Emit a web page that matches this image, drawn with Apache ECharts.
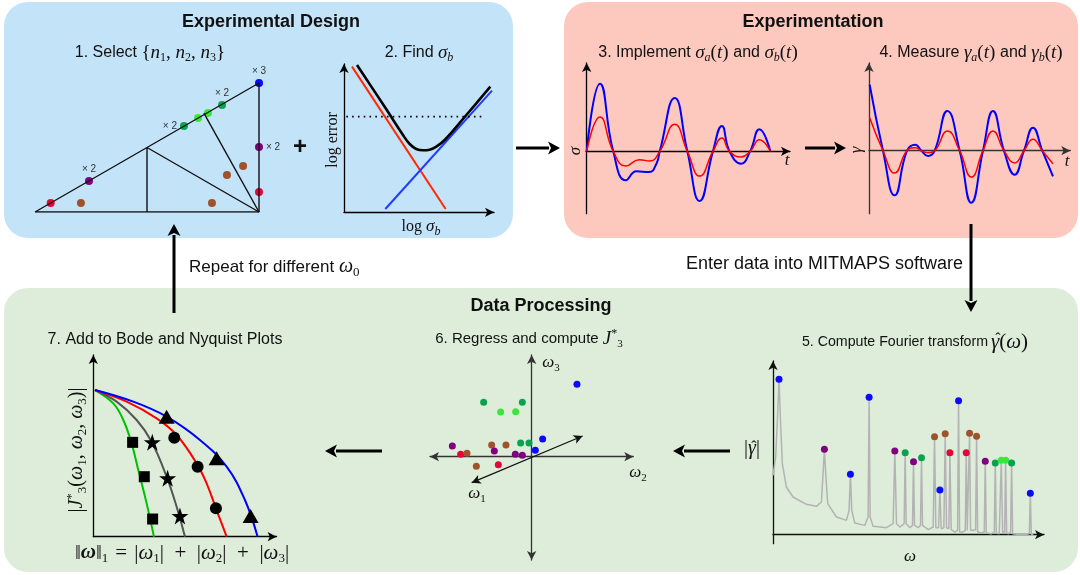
<!DOCTYPE html>
<html>
<head>
<meta charset="utf-8">
<script src="https://cdn.jsdelivr.net/npm/echarts@6.0.0/dist/echarts.min.js"></script>
<style>
html,body{margin:0;padding:0;background:#fff;}
#chart{width:1080px;height:575px;}
</style>
</head>
<body>
<div id="chart"></div>
<script>
// ================= DATA (arbitrary units) =================
// Panel 1 – candidate design points in the triangle (normalised coordinates)
const triOutline = [[0,0],[1,0],[1,1],[0,0]];
const triSplitA  = [[0.5,0],[0.5,0.5],[1,0]];
const triSplitB  = [[0.754,0.767],[1,0]];
const designPts  = [[0.07,0.07],[0.205,0.07],[0.241,0.24],[0.665,0.667],[0.728,0.729],[0.772,0.767],
                    [0.835,0.829],[1,1],[1,0.504],[1,0.155],[0.929,0.357],[0.857,0.287],[0.79,0.07]];
const designGroup = ['red','brown','purple','dkgreen','ltgreen','ltgreen','dkgreen','blue','purple','red','brown','brown','brown'];
const designMult  = ['','','× 2','× 2','','','× 2','× 3','× 2','','','',''];

// Panel 2 – error vs log sigma_b
const biasErr   = [[24,437],[305,10]];
const varErr    = [[124,10],[444,365]];
const totalErr  = [[39,442],[127,309],[177,232],[197,205],[217,190],[237,186],[257,188],[277,197],[302,217],[367,292],[439,377]];
const tolerance = [[7,287],[422,287]];

// Panel 3 – input signals sigma_a(t) (blue) and sigma_b(t) (red)
const sigmaA = [[0,0],[40,203],[80,0],[118,-87],[150,-60],[188,-62],[210,-37],[220,0],[265,160],[303,0],[340,-149],
                [380,0],[407,76],[430,0],[465,-37],[492,0],[520,66],[553,0]];
const sigmaB = [[0,0],[40,103],[80,0],[118,-44],[158,-25],[190,-29],[220,0],[265,81],[303,0],[340,-74],
                [380,0],[407,40],[430,0],[465,-17],[492,0],[520,35],[553,0]];

// Panel 4 – measured responses gamma_a(t) (blue) and gamma_b(t) (red)
const gammaA = [[2,198],[42,0],[77,-134],[114,0],[139,18],[157,0],[177,-16],[197,0],[235,119],[272,0],[307,-156],
                [342,0],[372,119],[405,0],[437,-72],[465,0],[492,69],[520,0],[552,-77]];
const gammaB = [[2,99],[42,0],[77,-67],[114,0],[139,9],[157,0],[177,-6],[197,0],[235,59],[272,0],[307,-79],
                [342,0],[372,59],[405,0],[437,-37],[465,0],[492,34],[520,0],[552,-39]];

// Panel 5 – Fourier spectrum |gamma_hat(omega)| and identified peaks
const spectrum = [[0,178],[8,233],[14,363],[18,466],[22,353],[28,213],[40,143],[60,113],[100,91],[130,85],[145,98],
  [150,183],[154,256],[158,183],[164,93],[190,53],[220,43],[228,73],[232,181],[236,73],[245,35],[275,28],[285,53],
  [288,412],[291,53],[300,25],[340,21],[360,33],[365,251],[370,33],[380,23],[393,33],[396,246],[399,33],[410,21],
  [418,28],[421,219],[424,28],[435,21],[442,28],[445,231],[448,28],[465,15],[480,23],[484,294],[488,21],[496,21],
  [500,134],[504,18],[512,21],[516,303],[520,21],[527,18],[530,246],[534,15],[545,8],[553,13],[556,402],[559,8],
  [570,8],[576,13],[579,246],[582,13],[586,15],[589,304],[592,13],[600,13],[607,15],[610,295],[613,8],[625,5],
  [633,8],[636,220],[639,5],[655,3],[663,8],[666,215],[669,5],[678,3],[681,8],[684,223],[688,7],[694,7],[697,223],
  [700,5],[706,3],[712,8],[715,215],[718,3],[730,1],[760,1],[768,3],[771,124],[774,1],[780,1]];
const peakW = [18,154,232,288,365,396,421,445,484,500,516,530,556,579,589,610,636,666,684,697,715,771];
const peakA = [466,256,181,412,251,246,219,231,294,134,303,246,402,246,304,295,220,215,223,223,215,124];
const peakGroup = ['blue','purple','blue','blue','purple','dkgreen','purple','dkgreen','brown','blue','brown','red',
                   'blue','red','brown','brown','purple','dkgreen','ltgreen','ltgreen','dkgreen','blue'];

// Panel 6 – regression points in (omega_2, omega_3) projection
const regressPts = [[136,217],[-144,163],[-28,163],[-93,134],[-48,135],[-238,32],[-120,35],[-77,35],[-33,41],[-8,41],
                    [33,53],[11,19],[-112,17],[-213,7],[-194,10],[-49,7],[-28,4],[-166,-29],[-100,-24]];
const regressGroup = ['blue','dkgreen','dkgreen','ltgreen','ltgreen','purple','brown','brown','dkgreen','dkgreen',
                      'blue','blue','purple','red','brown','purple','purple','brown','red'];
const omega1Axis = [[-180,-78],[153,62]];

// Panel 7 – |J3*| versus ||omega||_1
const bodeGreen = [[5,440],[60,400],[90,350],[115,280],[135,200],[160,100],[182,0]];
const bodeGray  = [[5,440],[70,405],[130,350],[175,285],[220,180],[250,90],[275,0]];
const bodeRed   = [[5,440],[100,405],[190,355],[250,305],[310,220],[340,160],[368,85],[385,40],[400,0]];
const bodeBlue  = [[5,440],[120,405],[220,360],[320,290],[400,210],[455,110],[493,0]];
const markSquares   = [[118,283],[153,180],[178,53]];
const markStars     = [[177,283],[223,175],[260,62]];
const markCircles   = [[243,297],[313,210],[368,85]];
const markTriangles = [[220,360],[370,235],[472,62]];

// ================= STYLE / LAYOUT =================
const SANS = '"Liberation Sans", Arial, Helvetica, sans-serif';
const SERIF = '"Liberation Serif", "Times New Roman", serif';
const INK = '#111';
const GROUP_COLOR = {red:'#e3063b', brown:'#a0522d', purple:'#800080', dkgreen:'#0ba24f', ltgreen:'#3be63b', blue:'#0a0aff'};
const multPos = [null,null,'top','left',null,null,'top','top','right',null,null,null,null];

const RICH = {
  s:    {fontFamily:SANS, fontSize:15, lineHeight:22, fill:INK},
  s142: {fontFamily:SANS, fontSize:14.2, lineHeight:22, fill:INK},
  st:   {fontFamily:SANS, fontSize:16, lineHeight:22, fill:INK},
  s16:  {fontFamily:SANS, fontSize:16, lineHeight:22, fill:INK},
  s17:  {fontFamily:SANS, fontSize:17, lineHeight:22, fill:INK},
  s18:  {fontFamily:SANS, fontSize:18, lineHeight:22, fill:INK},
  b:    {fontFamily:SANS, fontSize:18, fontWeight:'bold', lineHeight:22, fill:INK},
  m:    {fontFamily:SERIF, fontSize:17, fontStyle:'italic', lineHeight:22, fill:INK},
  mt:   {fontFamily:SERIF, fontSize:19, fontStyle:'italic', lineHeight:22, fill:INK},
  m20:  {fontFamily:SERIF, fontSize:20, fontStyle:'italic', lineHeight:24, fill:INK},
  m21:  {fontFamily:SERIF, fontSize:21, fontStyle:'italic', lineHeight:24, fill:INK},
  mb21: {fontFamily:SERIF, fontSize:21, fontStyle:'italic', fontWeight:'bold', lineHeight:24, fill:INK},
  sub:  {fontFamily:SERIF, fontSize:11, lineHeight:13, verticalAlign:'bottom', fill:INK},
  subt: {fontFamily:SERIF, fontSize:12, lineHeight:13, verticalAlign:'bottom', fill:INK},
  subi: {fontFamily:SERIF, fontSize:12, fontStyle:'italic', lineHeight:13, verticalAlign:'bottom', fill:INK},
  sub13:{fontFamily:SERIF, fontSize:13, lineHeight:14, verticalAlign:'bottom', fill:INK},
  sup:  {fontFamily:SERIF, fontSize:12, lineHeight:13, verticalAlign:'top', fill:INK},
  sup13:{fontFamily:SERIF, fontSize:13, lineHeight:14, verticalAlign:'top', fill:INK}
};

function T(x, y, text, o) {
  o = o || {};
  return {type:'text', x:x, y:y, rotation:o.rot || 0, silent:true, z:50,
    style:{text:text, rich:RICH, fill:INK, fontFamily:o.ff || SERIF, fontSize:o.fs || 17,
      fontWeight:o.fw || 'normal', lineHeight:o.lh || 22, align:o.align || 'center', verticalAlign:'middle'}};
}
function arrow(x1, y1, x2, y2) {
  const dx = x2 - x1, dy = y2 - y1, L = Math.hypot(dx, dy), ux = dx / L, uy = dy / L;
  const hl = 12, hw = 6.5, bx = x2 - ux * hl, by = y2 - uy * hl;
  return [
    {type:'line', silent:true, z:40, shape:{x1:x1, y1:y1, x2:bx + ux, y2:by + uy}, style:{stroke:'#000', lineWidth:3}},
    {type:'polygon', silent:true, z:40, shape:{points:[[x2,y2],[bx - uy*hw, by + ux*hw],[bx + ux*3, by + uy*3],[bx + uy*hw, by - ux*hw]]}, style:{fill:'#000'}}
  ];
}

const EQ = '\u2004', PL = '\u2002';
const graphics = [
  {type:'rect', silent:true, z:-5, shape:{x:4, y:2, width:509, height:236, r:24}, style:{fill:'#c3e3f9'}},
  {type:'rect', silent:true, z:-5, shape:{x:564, y:2, width:514, height:236, r:24}, style:{fill:'#fdc9bf'}},
  {type:'rect', silent:true, z:-5, shape:{x:4, y:288, width:1074, height:284, r:24}, style:{fill:'#ddedda'}},
  T(271, 22, '{b|Experimental Design}'),
  T(813, 22, '{b|Experimentation}'),
  T(541, 306, '{b|Data Processing}'),
  T(150, 53, '{st|1. Select }{{mt|n}{subt|1}, {mt|n}{subt|2}, {mt|n}{subt|3}}', {fs:19}),
  T(419, 53, '{st|2. Find }{mt|σ}{subi|b}', {fs:19}),
  T(698, 53, '{st|3. Implement }{mt|σ}{subi|a}({mt|t}) {st|and }{mt|σ}{subi|b}({mt|t})', {fs:19}),
  T(971, 53, '{st|4. Measure }{mt|γ}{subi|a}({mt|t}) {st|and }{mt|γ}{subi|b}({mt|t})', {fs:19}),
  T(988, 342, '{s142|5. Compute Fourier transform}', {align:'right'}),
  T(991, 342, '{m21|γ}({m21|ω})', {align:'left', fs:21, lh:24}),
  T(998, 340, 'ˆ', {fs:16}),
  T(529, 339, '{s|6. Regress and compute }{mt|J}{sup|*}{sub|3}', {fs:19}),
  T(165, 340, '{s16|7. Add to Bode and Nyquist Plots}'),
  T(300, 147, '+', {ff:SANS, fs:24, fw:'bold'}),
  T(333, 140, 'log error', {rot:Math.PI/2, fs:16}),
  T(421, 227, 'log {m|σ}{subi|b}', {fs:16}),
  T(576, 151, '{m|σ}', {rot:Math.PI/2}),
  T(787, 161, '{m|t}'),
  T(857, 150, '{m|γ}', {rot:Math.PI/2}),
  T(1067, 162, '{m|t}'),
  T(752, 449, '|{m20|γ}|', {fs:20}),
  T(754, 448, 'ˆ', {fs:16}),
  T(910, 557, '{m|ω}'),
  T(551, 363, '{m|ω}{sub|3}'),
  T(638, 473, '{m|ω}{sub|2}'),
  T(477, 494, '{m|ω}{sub|1}'),
  T(77, 450, '|{m20|J}{sup13|*}{sub13|3}({m20|ω}{sub13|1}, {m20|ω}{sub13|2}, {m20|ω}{sub13|3})|', {rot:Math.PI/2, fs:20, lh:24}),
  T(182, 553, '‖{mb21|ω}‖{sub13|1}' + EQ + '=' + EQ + '|{m21|ω}{sub13|1}|' + PL + '+' + PL + '|{m21|ω}{sub13|2}|' + PL + '+' + PL + '|{m21|ω}{sub13|3}|', {fs:21, lh:24}),
  T(189, 267, '{s17|Repeat for different }{m20|ω}{sub13|0}', {align:'left', fs:20, lh:24}),
  T(963, 264, '{s18|Enter data into MITMAPS software}', {align:'right'})
].concat(
  arrow(516,148,560,148), arrow(805,148,846,148), arrow(971,224,971,312),
  arrow(730,451,673,451), arrow(382,451,325,451), arrow(174,313,174,224)
);

// grids: [left, top, width, height]
const GRIDS = [[35,83,224,129],[344,64,150,148.3],[586,63,204,150.7],[869,63,201.3,150.7],
               [773,361,271,182.7],[430,355,203.3,205],[93.3,355,183.3,181.7]];
const XR = [[0,1],[0,450],[-2,612],[0,604],[0,812],[-305,305],[0,550]];
const YR = [[0,1],[0,445],[-187,265],[-189,263],[-27,521],[-310,305],[0,545]];
const AXC = ['#000','#000','#000','#333','#111','#333','#000'];
const XSYM = [null,['none','arrow'],['none','arrow'],['none','arrow'],['none','arrow'],['arrow','arrow'],['none','arrow']];
const YSYM = [null,['none','arrow'],['none','arrow'],['none','arrow'],['none','arrow'],['arrow','arrow'],['none','arrow']];

function axis(i, range, sym) {
  return {type:'value', gridIndex:i, min:range[0], max:range[1], show:i !== 0,
    splitLine:{show:false}, axisTick:{show:false}, axisLabel:{show:false},
    axisLine:{show:true, onZero:true, symbol:sym || 'none', symbolSize:[7,9], symbolOffset:[0,0],
      lineStyle:{color:AXC[i], width:1.3}}};
}

function line(i, data, color, width, extra) {
  return Object.assign({type:'line', xAxisIndex:i, yAxisIndex:i, data:data, symbol:'none', silent:true,
    animation:false, lineStyle:{color:color, width:width}}, extra || {});
}
function dots(i, pts, groups, size, extra) {
  return Object.assign({type:'scatter', xAxisIndex:i, yAxisIndex:i, symbolSize:size, silent:true, animation:false,
    data:pts.map((p, k) => ({value:p, itemStyle:{color:GROUP_COLOR[groups[k]], opacity:1}}))}, extra || {});
}
function marks(data, symbol, size) {
  return {type:'scatter', xAxisIndex:6, yAxisIndex:6, data:data, symbol:symbol, symbolSize:size,
    itemStyle:{color:'#000', opacity:1}, silent:true, animation:false, z:5};
}

const designSeries = dots(0, designPts, designGroup, 8);
designSeries.data.forEach((d, k) => {
  if (designMult[k]) d.label = {show:true, position:multPos[k], distance:3, formatter:designMult[k],
    fontFamily:SANS, fontSize:10, color:'#333'};
});

const peakSeries = dots(4, peakW.map((w, k) => [w, peakA[k]]), peakGroup, 7, {z:5});

const STAR = 'path://M50,0 L61.8,35.3 L98.9,35.3 L68.9,57.1 L80.3,92.7 L50,70.9 L19.7,92.7 L31.1,57.1 L1.1,35.3 L38.2,35.3 Z';

const option = {
  backgroundColor:'#ffffff',
  animation:false,
  grid:GRIDS.map(g => ({left:g[0], top:g[1], width:g[2], height:g[3], containLabel:false, outerBoundsMode:'none'})),
  xAxis:XR.map((r, i) => axis(i, r, XSYM[i])),
  yAxis:YR.map((r, i) => axis(i, r, YSYM[i])),
  graphic:{elements:graphics},
  series:[
    // panel 1
    line(0, triOutline, '#111', 1.4),
    line(0, triSplitA, '#111', 1.4),
    line(0, triSplitB, '#111', 1.4),
    designSeries,
    // panel 2
    line(1, biasErr, '#ff2a00', 2),
    line(1, varErr, '#1f3cff', 2),
    line(1, totalErr, '#000', 2.6, {smooth:0.4}),
    line(1, tolerance, '#000', 1.6, {lineStyle:{color:'#000', width:1.6, type:[1.6,4.2]}}),
    // panel 3
    line(2, sigmaA, '#0000ff', 2, {smooth:0.5}),
    line(2, sigmaB, '#ff0000', 1.5, {smooth:0.5}),
    // panel 4
    line(3, gammaA, '#0000ff', 2, {smooth:0.5}),
    line(3, gammaB, '#ff0000', 1.5, {smooth:0.5}),
    // panel 5
    line(4, spectrum, '#b3b3b3', 1.5),
    peakSeries,
    // panel 6
    dots(5, regressPts, regressGroup, 7, {
      markLine:{silent:true, animation:false, symbol:['arrow','arrow'], symbolSize:[7,9], label:{show:false},
        lineStyle:{color:'#111', width:1.2, type:'solid'},
        data:[[{coord:omega1Axis[0]}, {coord:omega1Axis[1]}]]}
    }),
    // panel 7
    line(6, bodeGreen, '#00c000', 2, {smooth:0.4}),
    line(6, bodeGray, '#555555', 2, {smooth:0.4}),
    line(6, bodeRed, '#ff0000', 2, {smooth:0.4}),
    line(6, bodeBlue, '#0000ff', 2, {smooth:0.4}),
    marks(markSquares, 'rect', 11),
    marks(markStars, STAR, 17),
    marks(markCircles, 'circle', 12),
    marks(markTriangles, 'triangle', [16,14])
  ]
};

const chart = echarts.init(document.getElementById('chart'), null, {renderer:'canvas'});
chart.setOption(option);
</script>
</body>
</html>
